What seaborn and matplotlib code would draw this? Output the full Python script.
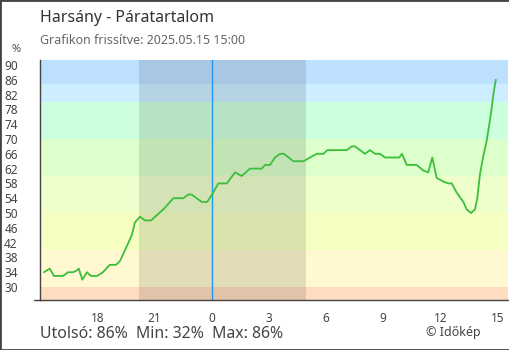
import matplotlib
matplotlib.use("Agg")
import matplotlib.pyplot as plt
from matplotlib.lines import Line2D
from matplotlib.patches import Rectangle
import seaborn as sns
import pandas as pd

# ---- data (hours since 15:00 of the previous day, relative humidity %) ----
hours = [0.21, 0.51, 0.73, 1.21, 1.47, 1.73, 1.94, 2.03, 2.22, 2.46, 2.67, 2.99,
         3.30, 3.65, 3.99, 4.19, 4.55, 4.81, 4.98, 5.07, 5.24, 5.51, 5.82, 6.47,
         6.82, 6.99, 7.51, 7.78, 7.95, 8.48, 8.77, 9.02, 9.35, 9.79, 10.23, 10.58,
         11.01, 11.63, 11.80, 12.06, 12.32, 12.59, 12.79, 13.28, 13.81, 14.16,
         14.51, 14.86, 15.07, 16.08, 16.35, 16.52, 17.04, 17.30, 17.57, 17.83,
         18.09, 18.84, 18.98, 19.23, 19.57, 19.75, 20.10, 20.36, 20.57, 20.80,
         21.15, 21.41, 21.59, 21.85, 22.20, 22.37, 22.60, 22.81, 22.93, 23.07,
         23.25, 23.42, 23.56, 23.69, 23.77, 23.90]
humidity = [34, 35, 33, 33, 34, 34, 34.5, 35, 32, 34, 33, 33,
            34, 36, 36, 37, 41, 44, 47.5, 48, 49, 48, 48, 51,
            53, 54, 54, 55, 55, 53, 53, 55, 58, 58, 61, 60,
            62, 62, 63, 63, 65, 66, 66, 64, 64, 65,
            66, 66, 67, 67, 68, 68, 66, 67, 66, 66,
            65, 65, 66, 63, 63, 63, 61.5, 61, 65, 59.5,
            58.5, 58, 58, 55.5, 53, 51, 50, 51, 54, 60.5,
            65.5, 69.5, 74, 78.5, 82, 86]

tick_pos = [3, 6, 9, 12, 15, 18, 21, 24]
tick_labels = ["18", "21", "0", "3", "6", "9", "12", "15"]
y_ticks = list(range(30, 91, 4))

band_edges = [0, 30, 40, 50, 60, 70, 80, 85, 100]
band_colors = ["#fddcbf", "#fff8d0", "#f5ffc2", "#eeffcc", "#ddffcc",
               "#ccffdd", "#cdeeff", "#bde0fe"]

night_start, night_end = 5.17, 13.93   # sunset ~20:10, sunrise ~04:56
midnight = 9

title = "Harsány - Páratartalom"
subtitle = "Grafikon frissítve: 2025.05.15 15:00"
summary = "Utolsó: 86%  Min: 32%  Max: 86%"
credit = "© Időkép"

# ---- figure ----
sns.set_theme(style="white")
plt.rcParams["font.family"] = ["Noto Sans", "DejaVu Sans"]

W, H = 510, 350
fig = plt.figure(figsize=(W / 100, H / 100), dpi=100)
fig.patch.set_facecolor("white")
ax = fig.add_axes([40 / W, 50 / H, 468 / W, 240 / H])

for lo, hi, c in zip(band_edges[:-1], band_edges[1:], band_colors):
    ax.axhspan(lo, hi, color=c, lw=0, zorder=0)
ax.axvspan(night_start, night_end, color="black", alpha=0.11, lw=0, zorder=1)
ax.axvline(midnight, color="#2196f3", lw=1, zorder=2)

df = pd.DataFrame({"t": hours, "rh": humidity})
sns.lineplot(data=df, x="t", y="rh", ax=ax, color="#3cbf3c", lw=1.3,
             estimator=None, zorder=3)

ax.set_xlim(0, 24.54)
ax.set_ylim(26.5, 91.35)
ax.set_xticks(tick_pos)
ax.set_xticklabels(tick_labels)
ax.set_yticks(y_ticks)
ax.set_xlabel("")
ax.set_ylabel("")

for s in ["top", "right"]:
    ax.spines[s].set_visible(False)
for s in ["left", "bottom"]:
    ax.spines[s].set_color("#444444")
    ax.spines[s].set_linewidth(1)

ax.tick_params(axis="both", direction="inout", length=12, width=1,
               color="#444444", labelcolor="#444444", labelsize=8.5)
ax.tick_params(axis="y", pad=10)
ax.tick_params(axis="x", pad=2.5)

# extend the bottom axis line slightly to the left
fig.add_artist(Line2D([34 / W, 40 / W], [50 / H, 50 / H], color="#444444", lw=1))

fig.text(40 / W, 1 - 18 / H, title, fontsize=11.5, color="#333333", va="center", ha="left")
fig.text(40 / W, 1 - 40 / H, subtitle, fontsize=9, color="#666666", va="center", ha="left")
fig.text(16 / W, 1 - 50 / H, "%", fontsize=8, color="#555555", va="center", ha="center")
fig.text(40 / W, 1 - 333.5 / H, summary, fontsize=11.4, color="#444444", va="center", ha="left")
fig.text(481 / W, 1 - 332.5 / H, credit, fontsize=9, color="#444444", va="center", ha="right")

fig.add_artist(Rectangle((0, 0), 1, 1, transform=fig.transFigure, fill=False,
                         ec="#444444", lw=2))

fig.savefig("out.png", dpi=100)
